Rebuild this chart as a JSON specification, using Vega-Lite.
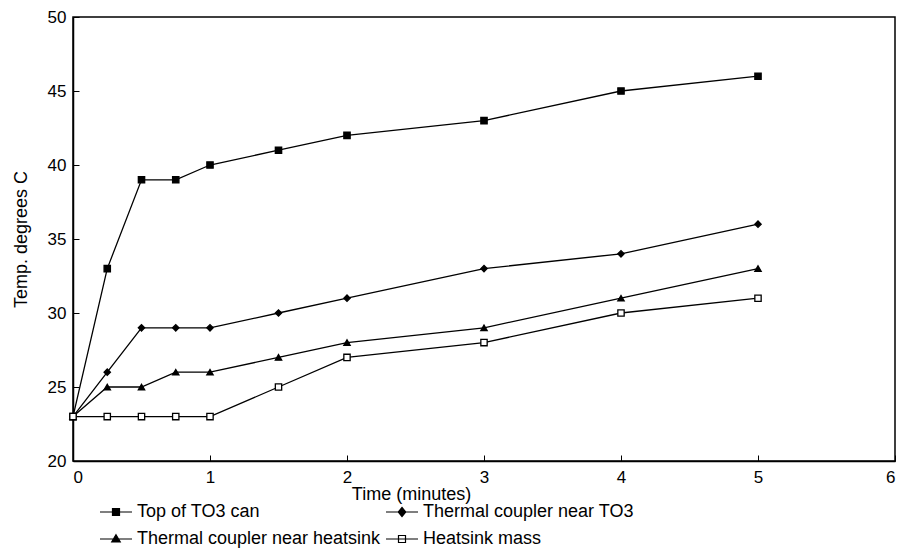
{
  "$schema": "https://vega.github.io/schema/vega-lite/v6.json",
  "width": 822,
  "height": 444,
  "autosize": {"type": "none"},
  "padding": {"left": 73, "top": 17, "right": 10, "bottom": 93},
  "background": "white",
  "data": {"values": [
    {"series": "Top of TO3 can", "t": 0, "temp": 23},
    {"series": "Top of TO3 can", "t": 0.25, "temp": 33},
    {"series": "Top of TO3 can", "t": 0.5, "temp": 39},
    {"series": "Top of TO3 can", "t": 0.75, "temp": 39},
    {"series": "Top of TO3 can", "t": 1, "temp": 40},
    {"series": "Top of TO3 can", "t": 1.5, "temp": 41},
    {"series": "Top of TO3 can", "t": 2, "temp": 42},
    {"series": "Top of TO3 can", "t": 3, "temp": 43},
    {"series": "Top of TO3 can", "t": 4, "temp": 45},
    {"series": "Top of TO3 can", "t": 5, "temp": 46},
    {"series": "Thermal coupler near TO3", "t": 0, "temp": 23},
    {"series": "Thermal coupler near TO3", "t": 0.25, "temp": 26},
    {"series": "Thermal coupler near TO3", "t": 0.5, "temp": 29},
    {"series": "Thermal coupler near TO3", "t": 0.75, "temp": 29},
    {"series": "Thermal coupler near TO3", "t": 1, "temp": 29},
    {"series": "Thermal coupler near TO3", "t": 1.5, "temp": 30},
    {"series": "Thermal coupler near TO3", "t": 2, "temp": 31},
    {"series": "Thermal coupler near TO3", "t": 3, "temp": 33},
    {"series": "Thermal coupler near TO3", "t": 4, "temp": 34},
    {"series": "Thermal coupler near TO3", "t": 5, "temp": 36},
    {"series": "Thermal coupler near heatsink", "t": 0, "temp": 23},
    {"series": "Thermal coupler near heatsink", "t": 0.25, "temp": 25},
    {"series": "Thermal coupler near heatsink", "t": 0.5, "temp": 25},
    {"series": "Thermal coupler near heatsink", "t": 0.75, "temp": 26},
    {"series": "Thermal coupler near heatsink", "t": 1, "temp": 26},
    {"series": "Thermal coupler near heatsink", "t": 1.5, "temp": 27},
    {"series": "Thermal coupler near heatsink", "t": 2, "temp": 28},
    {"series": "Thermal coupler near heatsink", "t": 3, "temp": 29},
    {"series": "Thermal coupler near heatsink", "t": 4, "temp": 31},
    {"series": "Thermal coupler near heatsink", "t": 5, "temp": 33},
    {"series": "Heatsink mass", "t": 0, "temp": 23},
    {"series": "Heatsink mass", "t": 0.25, "temp": 23},
    {"series": "Heatsink mass", "t": 0.5, "temp": 23},
    {"series": "Heatsink mass", "t": 0.75, "temp": 23},
    {"series": "Heatsink mass", "t": 1, "temp": 23},
    {"series": "Heatsink mass", "t": 1.5, "temp": 25},
    {"series": "Heatsink mass", "t": 2, "temp": 27},
    {"series": "Heatsink mass", "t": 3, "temp": 28},
    {"series": "Heatsink mass", "t": 4, "temp": 30},
    {"series": "Heatsink mass", "t": 5, "temp": 31}
  ]},
  "encoding": {
    "x": {
      "field": "t", "type": "quantitative",
      "scale": {"domain": [0, 6], "nice": false, "zero": false},
      "axis": {
        "title": "Time (minutes)",
        "values": [0, 1, 2, 3, 4, 5, 6],
        "grid": false,
        "tickSize": -6,
        "labelPadding": 14,
        "titleX": 338,
        "titleY": 38,
        "titleAlign": "center",
        "titleBaseline": "alphabetic",
        "titleAnchor": null
      }
    },
    "y": {
      "field": "temp", "type": "quantitative",
      "scale": {"domain": [20, 50], "nice": false, "zero": false},
      "axis": {
        "title": "Temp. degrees C",
        "values": [20, 25, 30, 35, 40, 45, 50],
        "grid": false,
        "tickSize": -6,
        "labelPadding": 13,
        "titlePadding": 17
      }
    }
  },
  "layer": [
    {
      "mark": {"type": "line", "color": "black", "strokeWidth": 1.3},
      "encoding": {"detail": {"field": "series"}}
    },
    {
      "mark": {"type": "point", "stroke": "black", "strokeWidth": 1.3, "opacity": 1, "size": 40},
      "encoding": {
        "shape": {
          "field": "series", "type": "nominal",
          "scale": {
            "domain": ["Top of TO3 can", "Thermal coupler near TO3", "Thermal coupler near heatsink", "Heatsink mass"],
            "range": ["square", "diamond", "triangle-up", "square"]
          },
          "legend": null
        },
        "fill": {
          "field": "series", "type": "nominal",
          "scale": {
            "domain": ["Top of TO3 can", "Thermal coupler near TO3", "Thermal coupler near heatsink", "Heatsink mass"],
            "range": ["black", "black", "black", "white"]
          },
          "legend": null
        }
      }
    },
    {
      "mark": {"type": "point", "filled": false, "strokeWidth": 1.2, "opacity": 1, "size": 0},
      "encoding": {
        "shape": {
          "field": "series", "type": "nominal",
          "scale": {
            "domain": ["Top of TO3 can", "Thermal coupler near TO3", "Thermal coupler near heatsink", "Heatsink mass"],
            "range": [
              "M-3.2,0H3.2M-0.7,-0.7H0.7V0.7H-0.7Z",
              "M-3.2,0H3.2M0,-0.9L0.75,0L0,0.9L-0.75,0Z",
              "M-3.2,0H3.2M0,-0.85L0.85,0.6L-0.85,0.6Z",
              "M-3.2,0H3.2M-0.7,-0.7H0.7V0.7H-0.7Z"
            ]
          },
          "legend": {
            "title": null,
            "orient": "none",
            "legendX": 34,
            "legendY": 486,
            "direction": "horizontal",
            "columns": 2,
            "columnPadding": 2,
            "rowPadding": 9,
            "symbolSize": 100,
            "symbolOpacity": 1,
            "symbolStrokeWidth": 1.2,
            "labelFontSize": 18,
            "labelFont": "Liberation Sans",
            "labelColor": "black",
            "labelLimit": 400,
            "labelOffset": 12
          }
        },
        "fill": {
          "field": "series", "type": "nominal",
          "scale": {
            "domain": ["Top of TO3 can", "Thermal coupler near TO3", "Thermal coupler near heatsink", "Heatsink mass"],
            "range": ["black", "black", "black", "white"]
          },
          "legend": {
            "title": null,
            "orient": "none",
            "legendX": 34,
            "legendY": 486,
            "direction": "horizontal",
            "columns": 2,
            "columnPadding": 2,
            "rowPadding": 9,
            "symbolSize": 100,
            "symbolOpacity": 1,
            "symbolStrokeWidth": 1.2,
            "labelFontSize": 18,
            "labelFont": "Liberation Sans",
            "labelColor": "black",
            "labelLimit": 400,
            "labelOffset": 12
          }
        },
        "stroke": {
          "field": "series", "type": "nominal",
          "scale": {
            "domain": ["Top of TO3 can", "Thermal coupler near TO3", "Thermal coupler near heatsink", "Heatsink mass"],
            "range": ["black", "black", "black", "black"]
          },
          "legend": {
            "title": null,
            "orient": "none",
            "legendX": 34,
            "legendY": 486,
            "direction": "horizontal",
            "columns": 2,
            "columnPadding": 2,
            "rowPadding": 9,
            "symbolSize": 100,
            "symbolOpacity": 1,
            "symbolStrokeWidth": 1.2,
            "labelFontSize": 18,
            "labelFont": "Liberation Sans",
            "labelColor": "black",
            "labelLimit": 400,
            "labelOffset": 12
          }
        }
      }
    }
  ],
  "resolve": {"scale": {"shape": "independent", "fill": "independent", "stroke": "independent"}},
  "config": {
    "font": "Liberation Sans",
    "view": {"stroke": "black", "strokeWidth": 1.5},
    "axis": {
      "domainColor": "black",
      "domainWidth": 1.5,
      "tickColor": "black",
      "tickWidth": 1,
      "labelColor": "black",
      "labelFontSize": 17,
      "labelFont": "Liberation Sans",
      "titleColor": "black",
      "titleFontSize": 18,
      "titleFont": "Liberation Sans",
      "titleFontWeight": "normal"
    }
  }
}
